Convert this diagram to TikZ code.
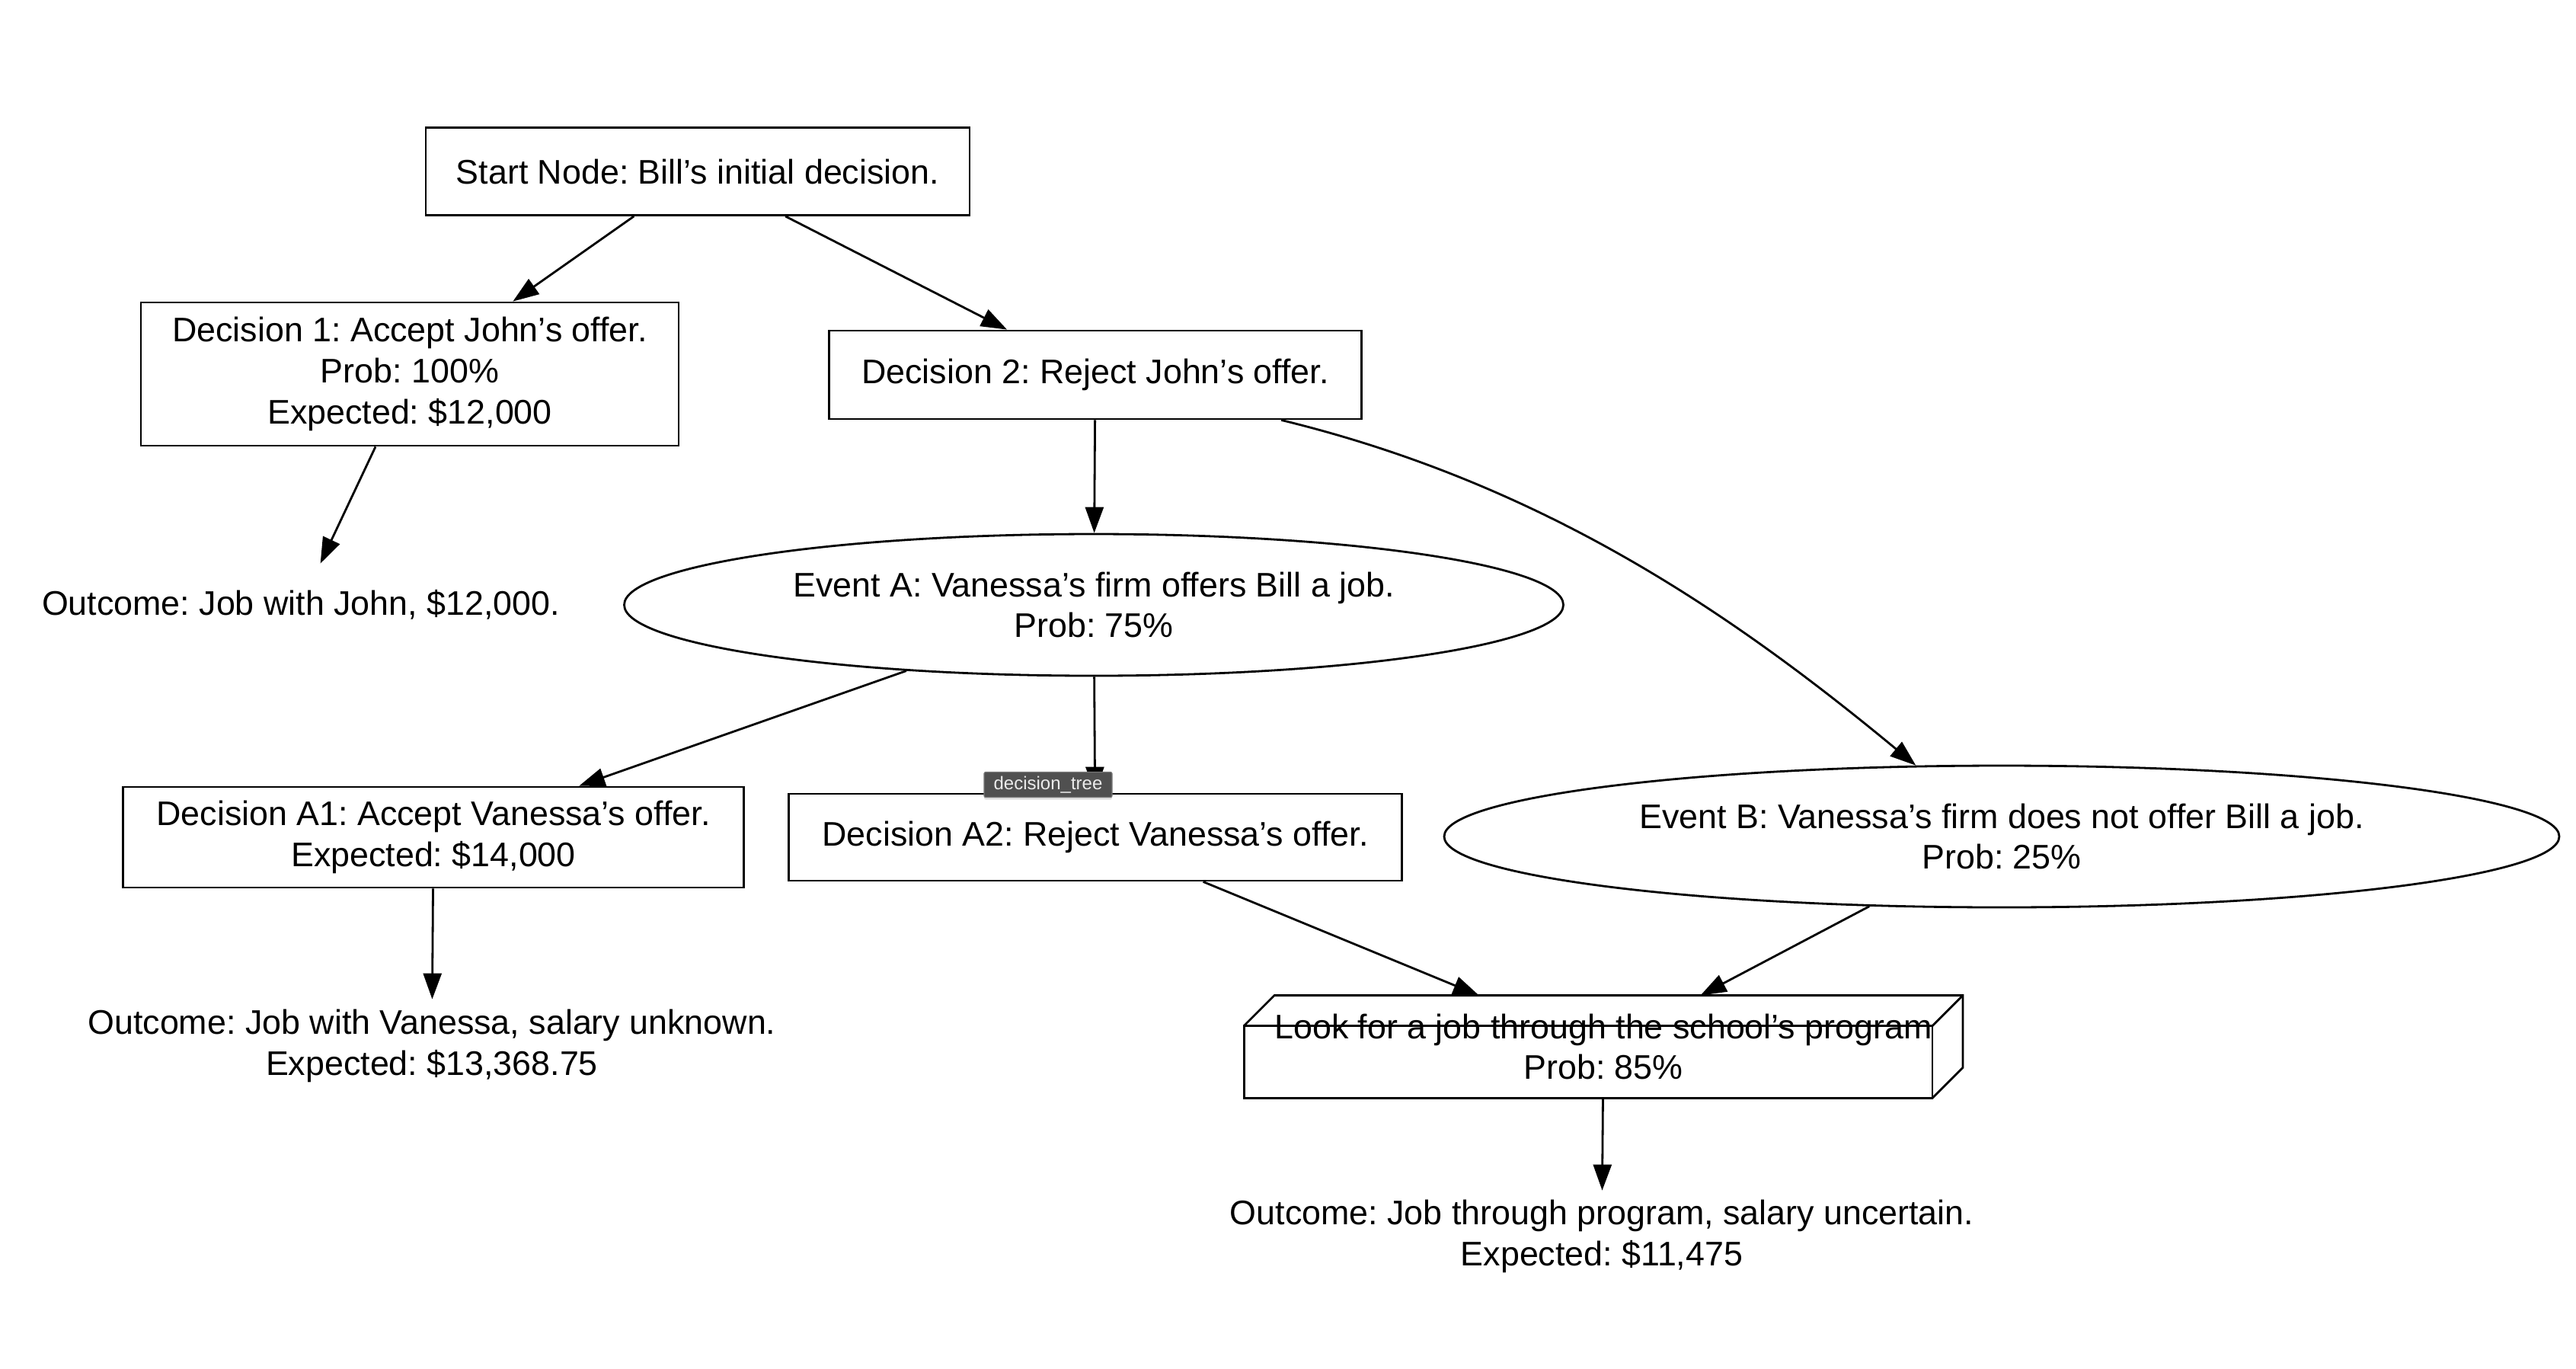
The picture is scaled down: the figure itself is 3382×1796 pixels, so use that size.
\documentclass[tikz,border=0pt]{standalone}
\usepackage{fontspec}
\setmainfont{Liberation Sans}
\frenchspacing
\usetikzlibrary{arrows.meta,shapes.geometric,calc,shadows}
\definecolor{tipfill}{RGB}{80,80,80}
\definecolor{tipdraw}{RGB}{120,120,120}
\definecolor{tiptext}{RGB}{235,235,235}
\begin{document}
\begin{tikzpicture}[x=0.5pt,y=-0.5pt,
  every node/.style={font=\fontsize{22.4}{26.9}\selectfont, align=center, inner sep=0pt},
  rect/.style={draw, line width=1.4pt},
  oval/.style={draw, ellipse, line width=1.4pt},
  plainnode/.style={minimum width=20pt},
  arr/.style={line width=1.4pt, -{Triangle[length=17pt,width=12pt]}},
  tipbox/.style={fill=tipfill, draw=tipdraw, line width=0.6pt, text=tiptext,
    font=\fontsize{12}{14}\selectfont, minimum width=84pt, minimum height=16.5pt,
    rounded corners=1pt, drop shadow={opacity=0.25, shadow xshift=0pt, shadow yshift=-1.5pt}}
]
\useasboundingbox (0,0) rectangle (3382,1796);

\node[rect, minimum width=357pt, minimum height=57.5pt] (start) at (916,225) {Start Node: Bill’s initial decision.};
\node[rect, minimum width=353pt, minimum height=94pt] (d1) at (538,491) {Decision 1: Accept John’s offer.\\Prob: 100\%\\Expected: \$12,000};
\node[rect, minimum width=349.5pt, minimum height=58pt] (d2) at (1438,492) {Decision 2: Reject John’s offer.};
\node[plainnode, minimum height=54pt] (outj) at (395,794) {Outcome: Job with John, \$12,000.};
\node[oval, minimum width=616.5pt, minimum height=93pt] (eva) at (1436,794) {Event A: Vanessa’s firm offers Bill a job.\\Prob: 75\%};
\node[rect, minimum width=407.5pt, minimum height=66pt] (da1) at (569,1099) {Decision A1: Accept Vanessa’s offer.\\Expected: \$14,000};
\node[rect, minimum width=402.5pt, minimum height=57pt] (da2) at (1438,1099) {Decision A2: Reject Vanessa’s offer.};
\node[oval, minimum width=732pt, minimum height=93pt] (evb) at (2628,1098) {Event B: Vanessa’s firm does not offer Bill a job.\\Prob: 25\%};
\node[plainnode, minimum height=61pt] (outv) at (567,1373) {Outcome: Job with Vanessa, salary unknown.\\Expected: \$13,368.75};
\node[minimum width=471.5pt, minimum height=67pt] (box) at (2105,1374) {Look for a job through the school’s program\\Prob: 85\%};
\node[plainnode, minimum height=60pt] (outp) at (2103,1623) {Outcome: Job through program, salary uncertain.\\Expected: \$11,475};

% 3D box outline
\draw[line width=1.4pt, line join=miter]
  (box.south west) rectangle ([xshift=-20pt,yshift=-20pt]box.north east);
\draw[line width=1.4pt, line join=miter]
  ([yshift=-20pt]box.north west) -- ([xshift=20pt]box.north west) -- (box.north east)
  -- ([yshift=20pt]box.south east) -- ([xshift=-20pt]box.south east);
\draw[line width=1.4pt] ([xshift=-20pt,yshift=-20pt]box.north east) -- (box.north east);

% connectors
\draw[arr] (start) -- (d1);
\draw[arr] (start) -- (d2);
\draw[arr] (d1) -- (outj);
\draw[arr] (d2) -- (eva);
\draw[arr] (d2) .. controls (2026,635) and (2274,805) .. (evb);
\draw[arr] (eva) -- (da1);
\draw[arr] (eva) -- (da2);
\draw[arr] (da1) -- (outv);
\draw[arr] (da2) -- (box);
\draw[arr] (evb) -- (box);
\draw[arr] (box) -- (outp);

% tooltip overlay
\node[tipbox] (tip) at (1376,1030) {decision\_tree};
\end{tikzpicture}
\end{document}
